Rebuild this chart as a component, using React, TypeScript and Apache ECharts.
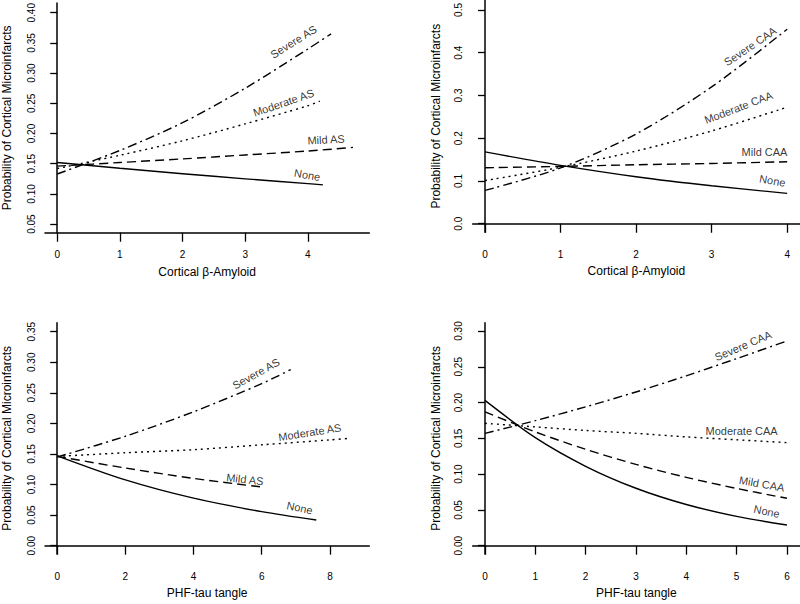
import React, { useEffect, useRef } from "react";
import * as echarts from "echarts";

// ---------- data ----------
// Panel 1: Cortical β-Amyloid × Arteriolosclerosis (AS)
const p1NoneX = [0, 1, 2, 3, 4, 4.24];
const p1NoneY = [0.152, 0.1425, 0.1335, 0.125, 0.117, 0.115];
const p1MildX = [0, 1, 2, 3, 4, 4.72];
const p1MildY = [0.146, 0.152, 0.158, 0.1645, 0.171, 0.177];
const p1ModX = [0, 1, 2, 3, 4, 4.19];
const p1ModY = [0.142, 0.164, 0.188, 0.216, 0.246, 0.2536];
const p1SevX = [0, 1, 2, 3, 4, 4.37];
const p1SevY = [0.133, 0.172, 0.218, 0.275, 0.34, 0.365];

// Panel 2: Cortical β-Amyloid × CAA
const p2X = [0, 1, 2, 3, 4];
const p2NoneY = [0.168, 0.1366, 0.11, 0.0888, 0.071];
const p2MildY = [0.131, 0.134, 0.138, 0.141, 0.145];
const p2ModY = [0.101, 0.132, 0.17, 0.217, 0.2726];
const p2SevY = [0.078, 0.1305, 0.21, 0.32, 0.455];

// Panel 3: PHF-tau tangle × AS
const p3NoneX = [0, 2, 4, 6, 7.6];
const p3NoneY = [0.147, 0.1076, 0.0777, 0.0557, 0.042];
const p3MildX = [0, 2, 4, 6];
const p3MildY = [0.146, 0.127, 0.11, 0.096];
const p3ModX = [0, 2, 4, 6, 8, 8.61];
const p3ModY = [0.146, 0.152, 0.157, 0.165, 0.173, 0.1757];
const p3SevX = [0, 2, 4, 6, 6.85];
const p3SevY = [0.145, 0.179, 0.219, 0.265, 0.288];

// Panel 4: PHF-tau tangle × CAA
const p4X = [0, 1, 2, 3, 4, 5, 6];
const p4NoneY = [0.203, 0.151, 0.111, 0.0803, 0.0576, 0.041, 0.029];
const p4MildY = [0.187, 0.159, 0.1347, 0.1136, 0.0955, 0.08, 0.0663];
const p4ModY = [0.171, 0.166, 0.161, 0.157, 0.152, 0.148, 0.144];
const p4SevY = [0.157, 0.1747, 0.194, 0.2148, 0.2374, 0.2614, 0.286];

// tick values
const p1XTicks = [0, 1, 2, 3, 4];
const p1YTicks = [0.05, 0.1, 0.15, 0.2, 0.25, 0.3, 0.35, 0.4];
const p2XTicks = [0, 1, 2, 3, 4];
const p2YTicks = [0, 0.1, 0.2, 0.3, 0.4, 0.5];
const p3XTicks = [0, 2, 4, 6, 8];
const p3YTicks = [0, 0.05, 0.1, 0.15, 0.2, 0.25, 0.3, 0.35];
const p4XTicks = [0, 1, 2, 3, 4, 5, 6];
const p4YTicks = [0, 0.05, 0.1, 0.15, 0.2, 0.25, 0.3];

// curve labels: [x, y, text, rotation in degrees]
const p1Labels: [number, number, string, number][] = [
  [3.77, 0.352, "Severe AS", 32],
  [3.61, 0.251, "Moderate AS", 19],
  [4.29, 0.19, "Mild AS", 3],
  [3.99, 0.1315, "None", -10],
];
const p2Labels: [number, number, string, number][] = [
  [3.51, 0.415, "Severe CAA", 34],
  [3.355, 0.272, "Moderate CAA", 21],
  [3.7, 0.1686, "Mild CAA", 0],
  [3.805, 0.101, "None", -10],
];
const p3Labels: [number, number, string, number][] = [
  [5.83, 0.2815, "Severe AS", 29],
  [7.41, 0.1855, "Moderate AS", 9],
  [5.505, 0.1085, "Mild AS", -6],
  [7.11, 0.062, "None", -12],
];
const p4Labels: [number, number, string, number][] = [
  [5.13, 0.2795, "Severe CAA", 23],
  [5.1, 0.1606, "Moderate CAA", 0],
  [5.5, 0.0865, "Mild CAA", -10],
  [5.6, 0.048, "None", -12],
];

const FONT = "'Liberation Sans', Arial, Helvetica, sans-serif";
const DASHES: Record<string, any> = {
  solid: "solid",
  dashed: [9, 5],
  dotted: [2, 4],
  dashdot: [9, 4, 2, 4],
};

function lineSeries(xs: number[], ys: number[], idx: number, style: string) {
  return {
    type: "line",
    xAxisIndex: idx,
    yAxisIndex: idx,
    data: xs.map((x, i) => [x, ys[i]]),
    showSymbol: false,
    smooth: 0.3,
    silent: true,
    lineStyle: { color: "#000", width: 1.4, type: DASHES[style], cap: "butt" },
  };
}

function labelSeries(labels: [number, number, string, number][], idx: number) {
  return {
    type: "scatter",
    xAxisIndex: idx,
    yAxisIndex: idx,
    symbolSize: 0,
    silent: true,
    itemStyle: { color: "#000" },
    data: labels.map((l) => ({
      value: [l[0], l[1]],
      name: l[2],
      label: { rotate: l[3] },
    })),
    label: {
      show: true,
      position: "inside",
      formatter: (p: any) => p.name,
      color: "#000",
      textBorderWidth: 0,
      textBorderColor: "transparent",
      fontFamily: FONT,
      fontSize: 11,
    },
  };
}

function xAxis(idx: number, min: number, max: number, ticks: number[], name: string) {
  return {
    type: "value",
    gridIndex: idx,
    min,
    max,
    name,
    nameLocation: "middle",
    nameGap: 33,
    nameTextStyle: { color: "#000", fontFamily: FONT, fontSize: 12 },
    splitLine: { show: false },
    axisLine: { show: true, lineStyle: { color: "#000", width: 1.5 } },
    axisTick: { show: true, length: 9, customValues: ticks, lineStyle: { color: "#000", width: 1.3 } },
    axisLabel: {
      customValues: ticks,
      color: "#000",
      fontFamily: FONT,
      fontSize: 10,
      margin: 17,
      formatter: (v: number) => String(Math.round(v * 100) / 100),
    },
  };
}

function yAxis(idx: number, min: number, max: number, ticks: number[], digits: number, gap: number) {
  return {
    type: "value",
    gridIndex: idx,
    min,
    max,
    name: "Probability of Cortical Microinfarcts",
    nameLocation: "middle",
    nameGap: gap,
    nameRotate: 90,
    nameTextStyle: { color: "#000", fontFamily: FONT, fontSize: 12 },
    splitLine: { show: false },
    axisLine: { show: true, lineStyle: { color: "#000", width: 1.5 } },
    axisTick: { show: true, length: 7, customValues: ticks, lineStyle: { color: "#000", width: 1.3 } },
    axisLabel: {
      customValues: ticks,
      rotate: 90,
      color: "#000",
      fontFamily: FONT,
      fontSize: 10,
      margin: 9,
      formatter: (v: number) => v.toFixed(digits),
    },
  };
}

export default function App() {
  const ref = useRef<HTMLDivElement>(null);
  useEffect(() => {
    if (!ref.current) return;
    const chart = echarts.init(ref.current, undefined, { renderer: "svg" });
    chart.setOption({
      animation: false,
      backgroundColor: "#fff",
      grid: [
        { left: 42.7, top: 0, width: 326.6, height: 232.7 },
        { left: 472.7, top: 0, width: 327.3, height: 232.3 },
        { left: 42.7, top: 322.7, width: 326.6, height: 231.3 },
        { left: 472.7, top: 322.7, width: 327.3, height: 231.3 },
      ],
      xAxis: [
        xAxis(0, -0.195, 4.98, p1XTicks, "Cortical β-Amyloid"),
        xAxis(1, -0.163, 4.17, p2XTicks, "Cortical β-Amyloid"),
        xAxis(2, -0.358, 9.155, p3XTicks, "PHF-tau tangle"),
        xAxis(3, -0.244, 6.26, p4XTicks, "PHF-tau tangle"),
      ],
      yAxis: [
        yAxis(0, 0.0358, 0.416, p1YTicks, 2, 32),
        yAxis(1, -0.02, 0.523, p2YTicks, 1, 31),
        yAxis(2, -0.0136, 0.3647, p3YTicks, 2, 32),
        yAxis(3, -0.0116, 0.3116, p4YTicks, 2, 31),
      ],
      series: [
        lineSeries(p1NoneX, p1NoneY, 0, "solid"),
        lineSeries(p1MildX, p1MildY, 0, "dashed"),
        lineSeries(p1ModX, p1ModY, 0, "dotted"),
        lineSeries(p1SevX, p1SevY, 0, "dashdot"),
        labelSeries(p1Labels, 0),
        lineSeries(p2X, p2NoneY, 1, "solid"),
        lineSeries(p2X, p2MildY, 1, "dashed"),
        lineSeries(p2X, p2ModY, 1, "dotted"),
        lineSeries(p2X, p2SevY, 1, "dashdot"),
        labelSeries(p2Labels, 1),
        lineSeries(p3NoneX, p3NoneY, 2, "solid"),
        lineSeries(p3MildX, p3MildY, 2, "dashed"),
        lineSeries(p3ModX, p3ModY, 2, "dotted"),
        lineSeries(p3SevX, p3SevY, 2, "dashdot"),
        labelSeries(p3Labels, 2),
        lineSeries(p4X, p4NoneY, 3, "solid"),
        lineSeries(p4X, p4MildY, 3, "dashed"),
        lineSeries(p4X, p4ModY, 3, "dotted"),
        lineSeries(p4X, p4SevY, 3, "dashdot"),
        labelSeries(p4Labels, 3),
      ],
    });
    return () => chart.dispose();
  }, []);
  return (
    <div
      ref={ref}
      style={{ position: "fixed", left: 0, top: 0, width: 800, height: 604, background: "#fff" }}
    />
  );
}
